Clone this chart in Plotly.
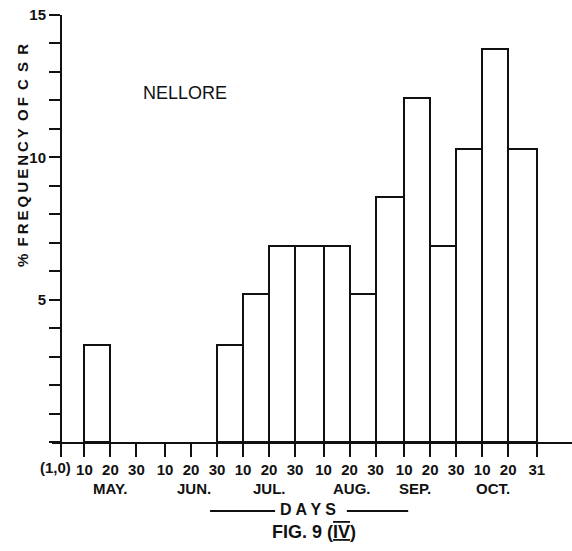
import plotly.graph_objects as go
from datetime import date

# Ten-day periods (month-day) and % frequency of CSR, Nellore
period_start = ["05-10", "06-30", "07-10", "07-20", "07-30", "08-10", "08-20",
                "08-30", "09-10", "09-20", "09-30", "10-10", "10-20"]
period_end = ["05-20", "07-10", "07-20", "07-30", "08-10", "08-20", "08-30",
              "09-10", "09-20", "09-30", "10-10", "10-20", "10-31"]
frequency = [3.4, 3.4, 5.2, 6.9, 6.9, 6.9, 5.2, 8.6, 12.1, 6.9, 10.3, 13.8, 10.3]

# Day ticks along the x axis (the origin label is drawn separately)
tick_dates = ["05-01", "05-10", "05-20", "05-30", "06-10", "06-20", "06-30",
              "07-10", "07-20", "07-30", "08-10", "08-20", "08-30",
              "09-10", "09-20", "09-30", "10-10", "10-20", "10-31"]
tick_labels = ["", "10", "20", "30", "10", "20", "30", "10", "20", "30",
               "10", "20", "30", "10", "20", "30", "10", "20", "31"]
origin_label = "(1,0)"

# Month names and where they sit under the day ticks
month_names = ["MAY.", "JUN.", "JUL.", "AUG.", "SEP.", "OCT."]
month_anchor = ["05-20", "06-21", "07-20", "08-21", "09-14", "10-14"]

# Percentage axis
y_ticks = list(range(0, 16))
y_labels = [str(v) if v in (5, 10, 15) else "" for v in y_ticks]

YEAR = 1975
START = date(YEAR, 5, 1)


def day_of(md):
    m, d = (int(p) for p in md.split("-"))
    return (date(YEAR, m, d) - START).days


x0 = [day_of(s) for s in period_start]
x1 = [day_of(e) for e in period_end]
centers = [(a + b) / 2 for a, b in zip(x0, x1)]
widths = [b - a for a, b in zip(x0, x1)]

FONT = "Liberation Sans, Arial, sans-serif"
INK = "#111111"
TICK_FONT = dict(family=FONT, size=15, color=INK, weight="bold")

fig = go.Figure()
fig.add_trace(go.Bar(
    x=centers, y=frequency, width=widths,
    marker=dict(color="white", line=dict(color=INK, width=2)),
    hoverinfo="skip", showlegend=False,
))

X_LEFT = -3.46
PX_PER_DAY = 2.60
PLOT_W = 520
fig.update_layout(
    width=572, height=551,
    margin=dict(l=52, r=0, t=15, b=109),
    paper_bgcolor="white", plot_bgcolor="white",
    bargap=0,
    xaxis=dict(
        range=[X_LEFT, X_LEFT + PLOT_W / PX_PER_DAY],
        tickvals=[day_of(t) for t in tick_dates], ticktext=tick_labels,
        tickangle=0,
        ticks="outside", ticklen=13, tickwidth=2, tickcolor=INK,
        showline=True, linecolor=INK, linewidth=2,
        showgrid=False, zeroline=False,
        tickfont=TICK_FONT,
    ),
    yaxis=dict(
        range=[0, 15],
        anchor="free", position=(0 - X_LEFT) * PX_PER_DAY / PLOT_W,
        tickvals=y_ticks, ticktext=y_labels,
        ticks="outside", ticklen=11, tickwidth=2, tickcolor=INK,
        showline=True, linecolor=INK, linewidth=2,
        showgrid=False, zeroline=False,
        tickfont=TICK_FONT,
    ),
)

annotations = [dict(
    x=day_of(tick_dates[0]), xref="x", xanchor="center", xshift=-6,
    y=0, yref="paper", yanchor="middle", yshift=-25,
    text=origin_label, showarrow=False, font=TICK_FONT,
)]
for name, md in zip(month_names, month_anchor):
    annotations.append(dict(
        x=day_of(md), xref="x", xanchor="center",
        y=0, yref="paper", yanchor="middle",
        yshift=-46, text=name, showarrow=False,
        font=dict(family=FONT, size=15, color=INK, weight="bold"),
    ))

annotations += [
    dict(x=0.5, xref="paper", xanchor="center",
         y=0, yref="paper", yanchor="middle", yshift=-67,
         xshift=-4, text="D A Y S", showarrow=False,
         font=dict(family=FONT, size=16, color=INK, weight="bold")),
    dict(x=0.5, xref="paper", xanchor="center",
         y=0, yref="paper", yanchor="middle", yshift=-90, xshift=2,
         text="FIG. 9 (<span style=\"text-decoration:underline overline\">IV</span>)",
         showarrow=False,
         font=dict(family=FONT, size=18, color=INK, weight="bold")),
    dict(x=0.256, xref="paper", xanchor="center",
         y=0.818, yref="paper", yanchor="middle", text="NELLORE",
         showarrow=False, font=dict(family=FONT, size=18, color=INK)),
    dict(x=-0.058, xref="paper", xanchor="center",
         y=0.672, yref="paper", yanchor="middle", textangle=-90,
         text="%\u2009 F\u2009R\u2009E\u2009Q\u2009U\u2009E\u2009N\u2009C\u2009Y\u2009 O\u2009F\u2009 C\u2009 S\u2009 R",
         showarrow=False,
         font=dict(family=FONT, size=15, color=INK, weight="bold")),
]
fig.update_layout(annotations=annotations)

# Rules either side of the DAYS caption
for xa, xb in [(0.304, 0.429), (0.567, 0.685)]:
    fig.add_shape(type="line", xref="paper", yref="paper",
                  x0=xa, x1=xb, y0=-0.1616, y1=-0.1616,
                  line=dict(color=INK, width=2))

fig.write_html("out.html")
